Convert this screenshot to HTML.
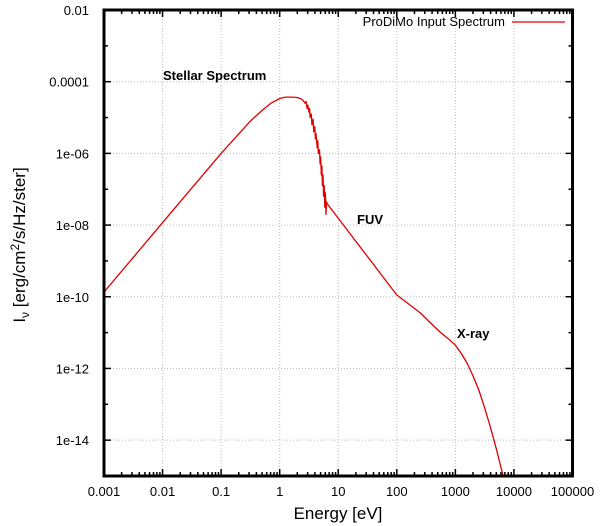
<!DOCTYPE html>
<html><head><meta charset="utf-8"><style>
body{margin:0;background:#fff}
svg{display:block;font-family:"Liberation Sans",sans-serif}
</style></head><body>
<svg id="chart" width="600" height="526" xmlns="http://www.w3.org/2000/svg"></svg>
<script>
const xTicks=[0.001,0.01,0.1,1,10,100,1000,10000,100000];
const xTickLabels=["0.001","0.01","0.1","1","10","100","1000","10000","100000"];
const yTicks=[-2,-4,-6,-8,-10,-12,-14];
const yTickLabels=["0.01","0.0001","1e-06","1e-08","1e-10","1e-12","1e-14"];
const logEnergy=[-3,-2,-1,-0.5,-0.3,-0.15,0,0.1,0.2,0.3,0.35,0.4,0.43,0.45,0.47,0.48,0.5,0.51,0.52,0.54,0.55,0.57,0.58,0.6,0.61,0.62,0.64,0.65,0.66,0.68,0.69,0.7,0.71,0.72,0.73,0.74,0.75,0.76,0.77,0.78,0.79,0.8,0.81,2,2.2,2.4,2.57,2.75,2.9,3.0,3.1,3.2,3.3,3.4,3.5,3.6,3.7,3.8,3.83];
const logIntensity=[-9.87,-7.93,-6.0,-5.1,-4.8,-4.6,-4.47,-4.43,-4.43,-4.44,-4.47,-4.52,-4.6,-4.55,-4.75,-4.65,-4.85,-4.75,-5.0,-4.9,-5.2,-5.05,-5.4,-5.25,-5.6,-5.45,-5.85,-5.65,-6.0,-5.9,-6.3,-6.1,-6.6,-6.35,-6.9,-6.6,-7.2,-6.9,-7.5,-7.1,-7.7,-7.35,-7.4,-9.95,-10.2,-10.45,-10.72,-11.0,-11.2,-11.35,-11.58,-11.85,-12.2,-12.6,-13.1,-13.65,-14.25,-14.9,-15.1];
const X0=104,X1=572.5,Y0=10,Y1=476;
const xs=v=>X0+(Math.log10(v)+3)/8*(X1-X0);
const xl=l=>X0+(l+3)/8*(X1-X0);
const yl=l=>Y0+(-2-l)/13*(Y1-Y0);
const svg=document.getElementById('chart');
const NS="http://www.w3.org/2000/svg";
function mk(tag,attrs,parent){const e=document.createElementNS(NS,tag);for(const k in attrs)e.setAttribute(k,attrs[k]);(parent||svg).appendChild(e);return e;}
const grid=mk('g',{});


xTicks.forEach(v=>{const x=xs(v);if(x>X0+1&&x<X1-1)mk('line',{x1:x,x2:x,y1:Y0,y2:Y1,stroke:'#bbb','stroke-dasharray':'1,2','stroke-width':1},grid);});
yTicks.forEach(l=>{const y=yl(l);if(y>Y0+1)mk('line',{x1:X0,x2:X1,y1:y,y2:y,stroke:'#bbb','stroke-dasharray':'1,2','stroke-width':1},grid);});
const tk=mk('g',{stroke:'#000','stroke-width':1.5});


for(let d=-3;d<5;d++){for(let m=1;m<10;m++){const x=xl(d+Math.log10(m));const len=m==1?7:4;mk('line',{x1:x,x2:x,y1:Y1,y2:Y1-len},tk);mk('line',{x1:x,x2:x,y1:Y0,y2:Y0+len},tk);}}
for(let l=-3;l>-15;l--){const y=yl(l);const len=(l%2==0)?7:4;mk('line',{x1:X0,x2:X0+len,y1:y,y2:y},tk);mk('line',{x1:X1,x2:X1-len,y1:y,y2:y},tk);}
let d='';logEnergy.forEach((e,i)=>{d+=(i?'L':'M')+xl(e).toFixed(1)+','+yl(logIntensity[i]).toFixed(1);});
const cp=mk('clipPath',{id:'cl'});mk('rect',{x:X0,y:Y0,width:X1-X0,height:Y1-Y0},cp);
const path=mk('path',{d:d,fill:'none',stroke:'#e00000','stroke-width':1.3,'stroke-linejoin':'round','clip-path':'url(#cl)'});


const fr=mk('rect',{x:X0,y:Y0,width:X1-X0,height:Y1-Y0,fill:'none',stroke:'#000','stroke-width':3});


xTicks.forEach((v,i)=>{const t=mk('text',{x:xs(v),y:Y1+20,'font-size':13,'text-anchor':'middle'});t.textContent=xTickLabels[i];

});
yTicks.forEach((l,i)=>{const t=mk('text',{x:X0-15,y:yl(l)+5,'font-size':13,'text-anchor':'end'});t.textContent=yTickLabels[i];

});
</script>
<svg style="position:absolute;left:0;top:0" width="600" height="526" xmlns="http://www.w3.org/2000/svg" font-family="Liberation Sans, sans-serif">
<text x="338" y="519" font-size="17" text-anchor="middle">Energy [eV]</text>
<text transform="translate(25,245) rotate(-90)" font-size="17" text-anchor="middle">I<tspan font-size="12" dy="4">ν</tspan><tspan dy="-4"> [erg/cm</tspan><tspan font-size="12" dy="-6">2</tspan><tspan dy="6">/s/Hz/ster]</tspan></text>
<text x="505" y="26" font-size="13" text-anchor="end">ProDiMo Input Spectrum</text>
<line x1="512" x2="565" y1="22" y2="22" stroke="#e00000" stroke-width="1.2"/>
<text x="163" y="80" font-size="13" font-weight="bold">Stellar Spectrum</text>
<text x="357" y="224" font-size="13" font-weight="bold">FUV</text>
<text x="457" y="338" font-size="13" font-weight="bold">X-ray</text>
</svg>
</body></html>
